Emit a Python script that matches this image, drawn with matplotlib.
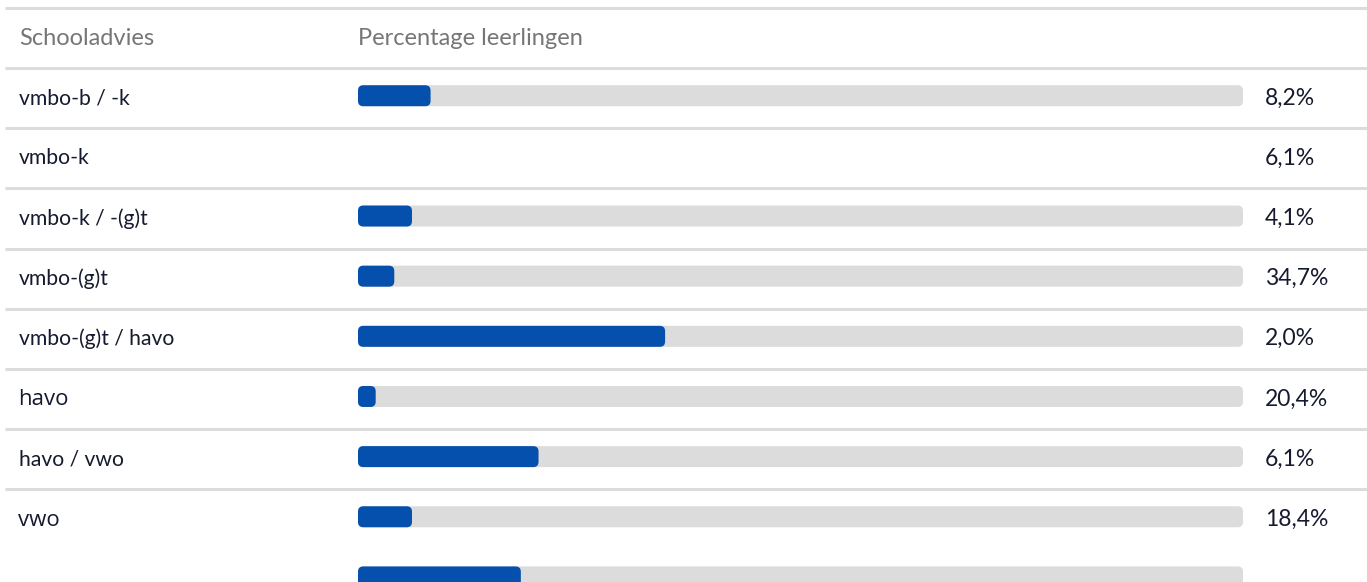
import matplotlib
matplotlib.use('Agg')
import matplotlib.pyplot as plt
from matplotlib.patches import FancyBboxPatch

# ---- data ----
header_left = 'Schooladvies'
header_mid = 'Percentage leerlingen'
categories = ['vmbo-b / -k', 'vmbo-k', 'vmbo-k / -(g)t', 'vmbo-(g)t',
              'vmbo-(g)t / havo', 'havo', 'havo / vwo', 'vwo']
percent_labels = ['8,2%', '6,1%', '4,1%', '34,7%', '2,0%', '20,4%', '6,1%', '18,4%']
values = [8.2, 6.1, 4.1, 34.7, 2.0, 20.4, 6.1, 18.4]

# ---- layout / style ----
W, H = 1367, 582
top = 8
step = 60.15
# the bars in the source render are shifted: first bar in row 0, the rest one row lower
bar_rows = [0, 2, 3, 4, 5, 6, 7, 8]
narrow = ['Lato', 'DejaVu Sans']
wide = ['Open Sans', 'DejaVu Sans']
label_fonts = [narrow, narrow, narrow, narrow, narrow, wide, narrow, wide]
text_color = '#161a2e'
header_color = '#767676'
line_color = '#dcdcdc'
track_color = '#dcdcdc'
bar_color = '#0550ad'

fig = plt.figure(figsize=(W / 100, H / 100), dpi=100)
bg = fig.add_axes([0, 0, 1, 1])
bg.set_xlim(0, W)
bg.set_ylim(H, 0)
bg.axis('off')

for i in range(len(categories) + 1):
    y = top + step * i
    bg.plot([5, W], [y, y], color=line_color, lw=2.2, solid_capstyle='butt')

bg.text(19, top + step / 2, header_left, color=header_color, fontsize=17,
        family=narrow, va='center', ha='left')
bg.text(358, top + step / 2, header_mid, color=header_color, fontsize=17,
        family=narrow, va='center', ha='left')

for i, (cat, lab) in enumerate(zip(categories, percent_labels)):
    yc = top + step * (i + 1) + step / 2
    if label_fonts[i] is narrow:
        bg.text(19, yc, cat, color=text_color, fontsize=15.2, family=narrow,
                va='center', ha='left')
    else:
        bg.text(18, yc + 1, cat, color=text_color, fontsize=16, family=wide,
                va='center', ha='left')
    bg.text(1265, yc, lab, color=text_color, fontsize=16.5, family=narrow,
            va='center', ha='left')

# bar axes: x in percent
x0, x1 = 358, 1243
ax = fig.add_axes([x0 / W, 0, (x1 - x0) / W, 1])
ax.set_xlim(0, 100)
ax.set_ylim(H, 0)
ax.axis('off')
aspect = (x1 - x0) / 100.0
bh = 21
r = 0.6
for v, row in zip(values, bar_rows):
    yc = top + step * (row + 1) + step / 2 - 2.5
    track = FancyBboxPatch((0, yc - bh / 2), 100, bh,
                           boxstyle=f'round,pad=0,rounding_size={r}',
                           mutation_aspect=aspect, fc=track_color, ec='none',
                           clip_on=False)
    ax.add_patch(track)
    bar = FancyBboxPatch((0, yc - bh / 2), v, bh,
                         boxstyle=f'round,pad=0,rounding_size={r}',
                         mutation_aspect=aspect, fc=bar_color, ec='none',
                         clip_on=False)
    ax.add_patch(bar)

fig.savefig('out.png', dpi=100)
